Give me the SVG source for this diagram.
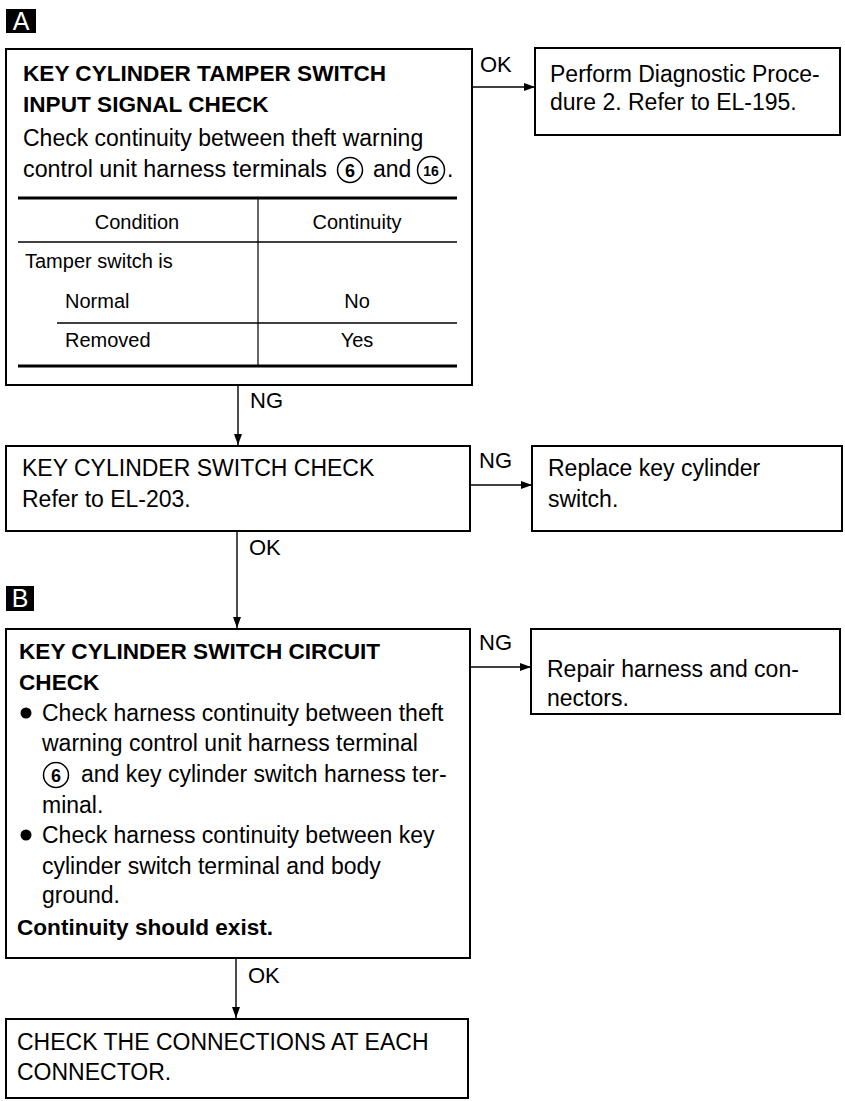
<svg xmlns="http://www.w3.org/2000/svg" width="845" height="1101" viewBox="0 0 845 1101">
<style>
  .box { fill: #fff; stroke: #000; stroke-width: 2; }
  .t { font-family: "Liberation Sans", Arial, sans-serif; font-size: 23px; fill: #000; }
  .b { font-weight: bold; font-size: 22.6px; }
  .tb { font-family: "Liberation Sans", Arial, sans-serif; font-size: 20px; fill: #000; }
  .lbl { font-family: "Liberation Sans", Arial, sans-serif; font-size: 22px; fill: #000; }
  .conn { stroke: #000; stroke-width: 1.4; fill: none; }
  .circ { fill: none; stroke: #000; stroke-width: 1.5; }
  .cn { font-family: "Liberation Sans", Arial, sans-serif; font-weight: bold; fill: #000; text-anchor: middle; }
  .tag { font-family: "Liberation Sans", Arial, sans-serif; font-size: 25px; fill: #fff; text-anchor: middle; }
</style>
<defs>
  <marker id="arr" viewBox="0 0 11 8" refX="11" refY="4" markerWidth="11" markerHeight="8" markerUnits="userSpaceOnUse" orient="auto">
    <path d="M0,0 L11,4 L0,8 Z" fill="#000"/>
  </marker>
</defs>
<rect width="845" height="1101" fill="#fff"/>

<g id="tagA">
  <rect x="6" y="9" width="30" height="24" fill="#000"/>
  <text class="tag" x="21" y="30">A</text>
</g>
<g id="tagB">
  <rect x="6" y="586" width="28" height="25" fill="#000"/>
  <text class="tag" x="20" y="607">B</text>
</g>

<g id="connectors">
  <line class="conn" x1="472" y1="87" x2="535" y2="87" marker-end="url(#arr)"/>
  <text class="lbl" x="480" y="72">OK</text>
  <line class="conn" x1="238" y1="385" x2="238" y2="445" marker-end="url(#arr)"/>
  <text class="lbl" x="250" y="408">NG</text>
  <line class="conn" x1="470" y1="485" x2="532" y2="485" marker-end="url(#arr)"/>
  <text class="lbl" x="479" y="468">NG</text>
  <line class="conn" x1="237" y1="531" x2="237" y2="628" marker-end="url(#arr)"/>
  <text class="lbl" x="249" y="555">OK</text>
  <line class="conn" x1="470" y1="667" x2="531" y2="667" marker-end="url(#arr)"/>
  <text class="lbl" x="479" y="650">NG</text>
  <line class="conn" x1="236" y1="958" x2="236" y2="1018" marker-end="url(#arr)"/>
  <text class="lbl" x="248" y="983">OK</text>
</g>

<g id="node1">
  <rect class="box" x="6" y="49" width="466" height="336"/>
  <text class="t b" x="23" y="81">KEY CYLINDER TAMPER SWITCH</text>
  <text class="t b" x="23" y="112">INPUT SIGNAL CHECK</text>
  <text class="t" x="23" y="146">Check continuity between theft warning</text>
  <text class="t" x="23" y="177" textLength="304" lengthAdjust="spacingAndGlyphs">control unit harness terminals</text>
  <circle class="circ" cx="350" cy="170" r="12.5"/>
  <text class="cn" x="350" y="176.5" font-size="18">6</text>
  <text class="t" x="373" y="177">and</text>
  <circle class="circ" cx="431" cy="170" r="13.5"/>
  <text class="cn" x="431" y="175.5" font-size="14">16</text>
  <text class="t" x="447" y="177">.</text>
  <line x1="18" y1="198" x2="457" y2="198" stroke="#000" stroke-width="3"/>
  <line x1="18" y1="242" x2="457" y2="242" stroke="#000" stroke-width="1.5"/>
  <line x1="57" y1="323" x2="457" y2="323" stroke="#000" stroke-width="1.5"/>
  <line x1="18" y1="366" x2="457" y2="366" stroke="#000" stroke-width="3"/>
  <line x1="258" y1="198" x2="258" y2="366" stroke="#000" stroke-width="1.2"/>
  <text class="tb" x="137" y="229" text-anchor="middle">Condition</text>
  <text class="tb" x="357" y="229" text-anchor="middle">Continuity</text>
  <text class="tb" x="25" y="268">Tamper switch is</text>
  <text class="tb" x="65" y="308">Normal</text>
  <text class="tb" x="357" y="308" text-anchor="middle">No</text>
  <text class="tb" x="65" y="347">Removed</text>
  <text class="tb" x="357" y="347" text-anchor="middle">Yes</text>
</g>

<g id="node2">
  <rect class="box" x="535" y="48" width="305" height="87"/>
  <text class="t" x="550" y="82">Perform Diagnostic Proce-</text>
  <text class="t" x="550" y="110">dure 2. Refer to EL-195.</text>
</g>

<g id="node3">
  <rect class="box" x="6" y="446" width="464" height="85"/>
  <text class="t" x="22" y="476">KEY CYLINDER SWITCH CHECK</text>
  <text class="t" x="22" y="507">Refer to EL-203.</text>
</g>

<g id="node4">
  <rect class="box" x="532" y="446" width="310" height="85"/>
  <text class="t" x="548" y="476">Replace key cylinder</text>
  <text class="t" x="548" y="507">switch.</text>
</g>

<g id="node5">
  <rect class="box" x="6" y="629" width="464" height="329"/>
  <text class="t b" x="19" y="659">KEY CYLINDER SWITCH CIRCUIT</text>
  <text class="t b" x="19" y="690">CHECK</text>
  <circle cx="26" cy="713" r="5.5" fill="#000"/>
  <text class="t" x="42" y="721">Check harness continuity between theft</text>
  <text class="t" x="42" y="751">warning control unit harness terminal</text>
  <circle class="circ" cx="56" cy="775" r="12.5"/>
  <text class="cn" x="56" y="781.5" font-size="18">6</text>
  <text class="t" x="81" y="782">and key cylinder switch harness ter-</text>
  <text class="t" x="42" y="813">minal.</text>
  <circle cx="26" cy="835" r="5.5" fill="#000"/>
  <text class="t" x="42" y="843">Check harness continuity between key</text>
  <text class="t" x="42" y="874">cylinder switch terminal and body</text>
  <text class="t" x="42" y="903">ground.</text>
  <text class="t b" x="17" y="935">Continuity should exist.</text>
</g>

<g id="node6">
  <rect class="box" x="531" y="629" width="309" height="85"/>
  <text class="t" x="547" y="677">Repair harness and con-</text>
  <text class="t" x="547" y="706">nectors.</text>
</g>

<g id="node7">
  <rect class="box" x="6" y="1019" width="462" height="79"/>
  <text class="t" x="17" y="1050">CHECK THE CONNECTIONS AT EACH</text>
  <text class="t" x="17" y="1080">CONNECTOR.</text>
</g>
</svg>
